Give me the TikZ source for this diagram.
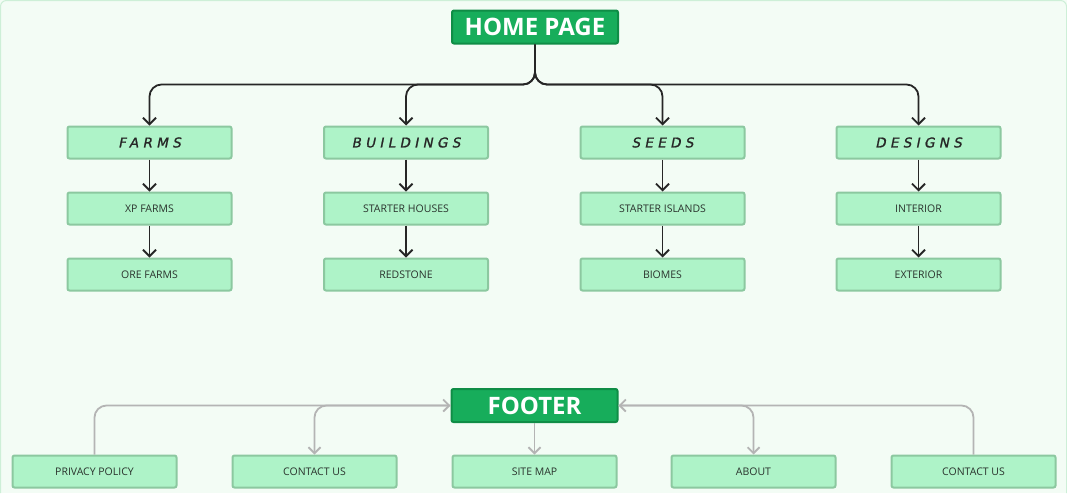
\documentclass[tikz,border=0pt]{standalone}
\usepackage{fontspec}
\setmainfont{Open Sans}
\newfontfamily\handfont[LetterSpace=32,FakeSlant=0.2,FakeBold=1.2]{DejaVu Sans}
\usetikzlibrary{arrows.meta}

\definecolor{pagebg}{HTML}{F3FCF5}
\definecolor{pageedge}{HTML}{CDEFD7}
\definecolor{boxfill}{HTML}{AEF3C8}
\definecolor{boxedge}{HTML}{8CC8A0}
\definecolor{headfill}{HTML}{17AD5B}
\definecolor{headedge}{HTML}{0F8D46}
\definecolor{labeltext}{HTML}{2A332D}
\definecolor{footgray}{HTML}{B4B4B4}

\begin{document}
\begin{tikzpicture}[x=1pt, y=-1pt,
  headbox/.style={draw=headedge, fill=headfill, line width=2pt, rounded corners=2pt,
    minimum width=166pt, minimum height=33pt, inner sep=0pt, text=white,
    font=\bfseries\fontsize{24}{24}\selectfont},
  catbox/.style={draw=boxedge, fill=boxfill, line width=2pt, rounded corners=2pt,
    minimum width=164pt, minimum height=32pt, inner sep=0pt, text=black!85,
    font=\handfont\fontsize{13.5}{13.5}\selectfont},
  leafbox/.style={draw=boxedge, fill=boxfill, line width=2pt, rounded corners=2pt,
    minimum width=164pt, minimum height=32pt, inner sep=0pt, text=labeltext,
    font=\fontsize{10.5}{10.5}\selectfont},
  treeline/.style={line width=1.8pt, black!85, rounded corners=12pt,
    -{Straight Barb[length=6.5pt, width=13pt, line width=1.8pt]}},
  footline/.style={line width=1.8pt, footgray, rounded corners=12pt,
    -{Straight Barb[length=6pt, width=12pt, line width=1.8pt]}}]
  % page
  \fill[pagebg] (0,0) rectangle (1067,493);
  \draw[pageedge, line width=1pt, rounded corners=6pt] (0.5,493) -- (0.5,0.5) -- (1066.5,0.5) -- (1066.5,493);
  \useasboundingbox (0,0) rectangle (1067,493);

  % main tree
  \node[headbox] (home) at (535,27) {HOME PAGE};
  \node[catbox] (farms) at (149.5,142.5) {FARMS};
  \node[catbox] (buildings) at (406,142.5) {BUILDINGS};
  \node[catbox] (seeds) at (662.5,142.5) {SEEDS};
  \node[catbox] (designs) at (918.5,142.5) {DESIGNS};

  \node[leafbox] (xpfarms) at (149.5,208.5) {XP FARMS};
  \node[leafbox] (orefarms) at (149.5,274.5) {ORE FARMS};
  \node[leafbox] (starterhouses) at (406,208.5) {STARTER HOUSES};
  \node[leafbox] (redstone) at (406,274.5) {REDSTONE};
  \node[leafbox] (starterislands) at (662.5,208.5) {STARTER ISLANDS};
  \node[leafbox] (biomes) at (662.5,274.5) {BIOMES};
  \node[leafbox] (interior) at (918.5,208.5) {INTERIOR};
  \node[leafbox] (exterior) at (918.5,274.5) {EXTERIOR};

  \draw[treeline] (home.south) -- ++(0,40) -| (farms.north);
  \draw[treeline] (home.south) -- ++(0,40) -| (buildings.north);
  \draw[treeline] (home.south) -- ++(0,40) -| (seeds.north);
  \draw[treeline] (home.south) -- ++(0,40) -| (designs.north);

  \draw[treeline] (farms) -- (xpfarms);
  \draw[treeline] (xpfarms) -- (orefarms);
  \draw[treeline] (buildings) -- (starterhouses);
  \draw[treeline] (starterhouses) -- (redstone);
  \draw[treeline] (seeds) -- (starterislands);
  \draw[treeline] (starterislands) -- (biomes);
  \draw[treeline] (designs) -- (interior);
  \draw[treeline] (interior) -- (exterior);

  % footer
  \node[headbox] (footer) at (534.5,405.5) {FOOTER};
  \node[leafbox] (privacy) at (94.5,471.5) {PRIVACY POLICY};
  \node[leafbox] (contactleft) at (314.5,471.5) {CONTACT US};
  \node[leafbox] (sitemap) at (534.5,471.5) {SITE MAP};
  \node[leafbox] (about) at (753.5,471.5) {ABOUT};
  \node[leafbox] (contactright) at (973.5,471.5) {CONTACT US};

  \draw[footline] (privacy.north) |- (footer.west);
  \draw[footline] (footer.west) -| (contactleft.north);
  \draw[footline] (footer.south) -- (sitemap.north);
  \draw[footline] (contactright.north) |- (footer.east);
  \draw[footline] (footer.east) -| (about.north);
\end{tikzpicture}
\end{document}
